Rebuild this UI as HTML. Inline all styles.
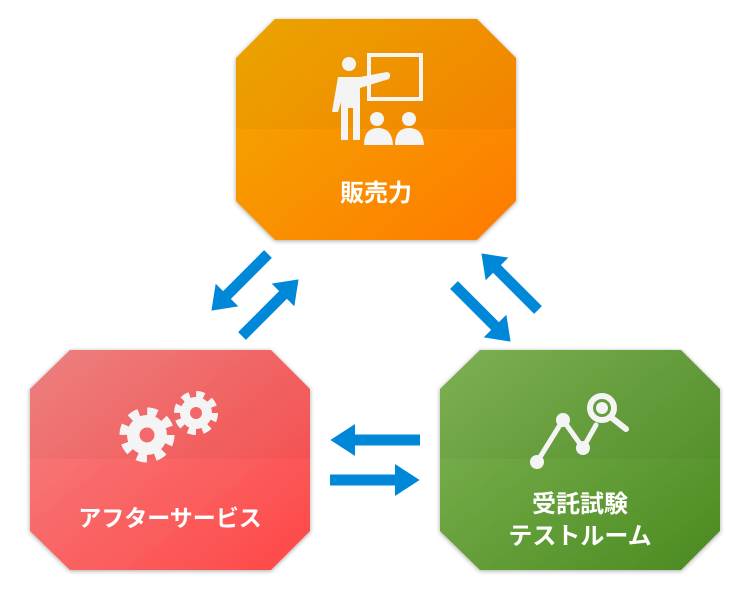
<!DOCTYPE html>
<html><head><meta charset="utf-8"><style>
html,body{margin:0;padding:0;background:#fff;}
svg{display:block;}
text{font-family:"Liberation Sans","Noto Sans CJK JP",sans-serif;font-weight:bold;fill:#fff;text-anchor:middle;}
</style></head><body>
<svg width="750" height="600" viewBox="0 0 750 600" xmlns="http://www.w3.org/2000/svg">
<defs>
<linearGradient id="go" x1="0" y1="0" x2="1" y2="1"><stop offset="0" stop-color="#f2ab00"/><stop offset="1" stop-color="#ff7a00"/></linearGradient>
<linearGradient id="gr" x1="0" y1="0" x2="1" y2="1"><stop offset="0" stop-color="#f48484"/><stop offset="1" stop-color="#ff4646"/></linearGradient>
<linearGradient id="gg" x1="0" y1="0" x2="1" y2="1"><stop offset="0" stop-color="#82b656"/><stop offset="1" stop-color="#4a8a20"/></linearGradient>
<filter id="sh" x="-10%" y="-10%" width="120%" height="120%"><feDropShadow dx="0" dy="1" stdDeviation="2.5" flood-color="#000" flood-opacity="0.35"/></filter>
<g id="arr"><rect x="0" y="-5.5" width="62" height="11" fill="#0088d8"/><polygon points="58,-16 80,0 58,16" fill="#0088d8"/></g>
</defs>

<polygon points="275,19 477,19 516,58 516,201 477,240 275,240 236,201 236,58" fill="url(#go)" filter="url(#sh)"/>
<polygon points="275,19 477,19 516,58 516,129 236,129 236,58" fill="#000" opacity="0.03"/>
<text x="376" y="201" font-size="24">販売力</text>
<g fill="#f4f4f4">
<circle cx="349" cy="64" r="7"/>
<path d="M338,77 L360,77 L387,72 Q392,73 389,79 L360,88 L360,140 L353,140 L353,108 L348,108 L348,140 L341,140 L341,102 L338,112 L332,112 Z"/>
<rect x="369" y="55" width="52" height="44" fill="none" stroke="#f4f4f4" stroke-width="4"/>
<circle cx="377" cy="119" r="7"/><path d="M364,145 Q364,128 378,128 Q392,128 393,145 Z"/>
<circle cx="409" cy="119" r="7"/><path d="M395,145 Q395,128 409,128 Q423,128 424,145 Z"/>
</g>

<polygon points="70,350 271,350 310,389 310,531 271,570 70,570 30,531 30,389" fill="url(#gr)" filter="url(#sh)"/>
<polygon points="70,350 271,350 310,389 310,459 30,459 30,389" fill="#000" opacity="0.03"/>
<text x="170" y="526" font-size="23">アフターサービス</text>
<g>
<circle cx="147" cy="435" r="20" fill="#f4f4f4"/>
<circle cx="147" cy="435" r="23.5" fill="none" stroke="#f4f4f4" stroke-width="8" stroke-dasharray="10 8.46"/>
<circle cx="147" cy="435" r="7.5" fill="#f46a6a"/>
<circle cx="196" cy="413" r="16" fill="#f4f4f4"/>
<circle cx="196" cy="413" r="18.5" fill="none" stroke="#f4f4f4" stroke-width="7" stroke-dasharray="8 6.53"/>
<circle cx="196" cy="413" r="6" fill="#f26868"/>
</g>

<polygon points="480,350 681,350 720,389 720,531 681,570 480,570 440,531 440,389" fill="url(#gg)" filter="url(#sh)"/>
<polygon points="480,350 681,350 720,389 720,459 440,459 440,389" fill="#000" opacity="0.03"/>
<text x="580" y="512" font-size="24">受託試験</text>
<text x="580" y="544" font-size="24">テストルーム</text>
<g stroke="#f4f4f4" fill="none" stroke-width="5" stroke-linecap="round">
<polyline points="537,462 563,420 583,448 596,425"/>
<circle cx="602" cy="408" r="12" stroke-width="6"/>
<line x1="612" y1="418" x2="626" y2="429" stroke-width="6"/>
</g>
<g fill="#f4f4f4"><circle cx="537" cy="462" r="7"/><circle cx="563" cy="420" r="7"/><circle cx="583" cy="448" r="7"/><circle cx="602" cy="408" r="6"/></g>

<use href="#arr" transform="translate(268,254) rotate(135)"/>
<use href="#arr" transform="translate(242,336) rotate(-45)"/>
<use href="#arr" transform="translate(454,285) rotate(45)"/>
<use href="#arr" transform="translate(538,310) rotate(-135)"/>
<use href="#arr" transform="translate(420,440) rotate(180) scale(1.12,1)"/>
<use href="#arr" transform="translate(330,480) scale(1.12,1)"/>
</svg>
</body></html>
